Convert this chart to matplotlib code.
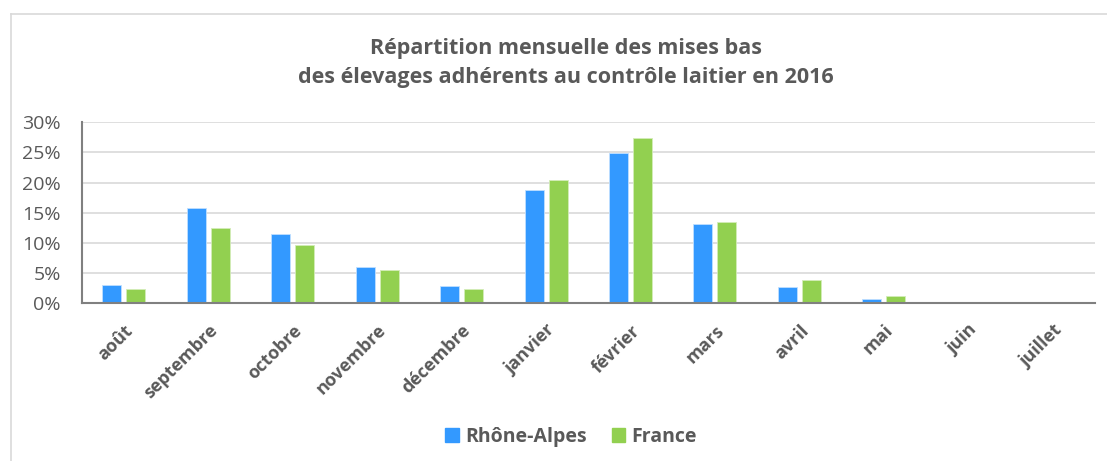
import matplotlib
matplotlib.use("Agg")
import matplotlib.pyplot as plt
import numpy as np
from matplotlib.lines import Line2D
from matplotlib.patches import Rectangle

months = ["août", "septembre", "octobre", "novembre", "décembre", "janvier",
          "février", "mars", "avril", "mai", "juin", "juillet"]
rhone_alpes = [3.0, 15.85, 11.5, 6.0, 2.8, 18.7, 24.9, 13.1, 2.7, 0.65, 0.05, 0.02]
france = [2.4, 12.5, 9.7, 5.6, 2.4, 20.5, 27.4, 13.4, 3.9, 1.25, 0.2, 0.15]
yticks = [0, 5, 10, 15, 20, 25, 30]
ytick_labels = [f"{v}%" for v in yticks]
title = "Répartition mensuelle des mises bas\ndes élevages adhérents au contrôle laitier en 2016"

BLUE = "#3399FF"
GREEN = "#92D050"
TXT = "#595959"

plt.rcParams['font.family'] = ['Open Sans', 'DejaVu Sans']

W, H = 1107, 461
fig = plt.figure(figsize=(W / 100, H / 100), dpi=100)
fig.patch.set_facecolor("white")

# outer frame (left and top edges visible)
fig.add_artist(Line2D([11 / W, 11 / W], [0, 1 - 14 / H], transform=fig.transFigure,
                      color="#D9D9D9", lw=1.2))
fig.add_artist(Line2D([11 / W, 1], [1 - 14 / H, 1 - 14 / H], transform=fig.transFigure,
                      color="#D9D9D9", lw=1.2))

left, right = 81.5 / W, 1095 / W
bottom, top = (H - 303.3) / H, (H - 122.3) / H
ax = fig.add_axes([left, bottom, right - left, top - bottom])

x = np.arange(len(months))
bw = 0.225
off = 0.142
ax.bar(x - off, rhone_alpes, width=bw, color=BLUE, edgecolor="#BFDFFF", linewidth=0.6, zorder=3)
ax.bar(x + off, france, width=bw, color=GREEN, edgecolor="#D3ECB8", linewidth=0.6, zorder=3)

ax.set_xlim(-0.5, len(months) - 0.5)
ax.set_ylim(0, 30)
ax.set_yticks(yticks)
ax.set_yticklabels(ytick_labels, fontsize=14, color=TXT)
ax.set_xticks(x)
ax.set_xticklabels(months, rotation=45, ha="right", rotation_mode="anchor",
                   fontsize=13, fontweight="bold", color=TXT)
ax.tick_params(axis="both", length=0)
ax.tick_params(axis="y", pad=15)
ax.tick_params(axis="x", pad=13)

ax.grid(axis="y", color="#D9D9D9", lw=1.2, zorder=0)
ax.set_axisbelow(True)
for s in ["top", "right"]:
    ax.spines[s].set_visible(False)
for s in ["left", "bottom"]:
    ax.spines[s].set_color("#808080")
    ax.spines[s].set_linewidth(1.5)
    ax.spines[s].set_zorder(4)

fig.text(566 / W, 1 - 63 / H, title, ha="center", va="center", fontsize=15.5,
         fontweight="bold", color=TXT, linespacing=1.5)

handles = [Rectangle((0, 0), 1, 1, color=BLUE), Rectangle((0, 0), 1, 1, color=GREEN)]
fig.legend(handles, ["Rhône-Alpes", "France"], loc="center", bbox_to_anchor=(571 / W, 1 - 437 / H),
           ncol=2, frameon=False, prop={"weight": "bold", "size": 14}, labelcolor=TXT,
           handlelength=0.7, handleheight=0.7, handletextpad=0.3, columnspacing=1.3)

fig.savefig("out.png", dpi=100, facecolor="white")
